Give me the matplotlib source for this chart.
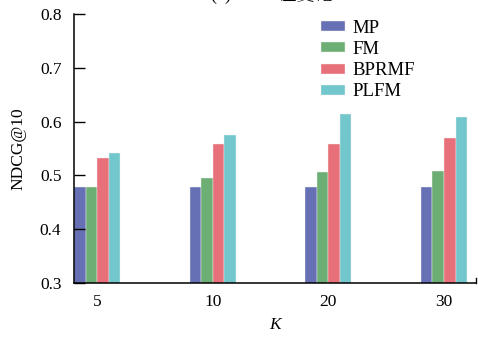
import matplotlib
matplotlib.use("Agg")
import matplotlib.pyplot as plt
import numpy as np

categories = ["5", "10", "20", "30"]
series_names = ["MP", "FM", "BPRMF", "PLFM"]
mp = [0.478, 0.478, 0.478, 0.478]
fm = [0.478, 0.496, 0.507, 0.509]
bprmf = [0.532, 0.559, 0.559, 0.570]
plfm = [0.542, 0.575, 0.614, 0.609]
yticks = [0.3, 0.4, 0.5, 0.6, 0.7, 0.8]
colors = ["#6670B4", "#6DAE74", "#E8707A", "#72C7CC"]

plt.rcParams['font.family'] = ['Liberation Serif', 'Noto Serif SC', 'Noto Sans CJK SC']

fig = plt.figure(figsize=(4.78, 3.37), dpi=100)
ax = fig.add_axes([74/478, 1-283/337, (476-74)/478, (283-14)/337])

x = np.arange(len(categories))
w = 0.1
for i, (vals, name) in enumerate(zip([mp, fm, bprmf, plfm], series_names)):
    ax.bar(x - 1.5*w + i*w, vals, width=w, color=colors[i], label=name,
           edgecolor='#f0f0f0', linewidth=0.3)

ax.set_ylim(0.3, 0.8)
ax.set_xlim(-0.2, 3.277)
ax.set_yticks(yticks)
ax.set_yticklabels([f"{t:.1f}" for t in yticks])
ax.set_xticks(x)
ax.set_xticklabels(categories)
ax.tick_params(axis='y', direction='in', length=8, width=1.0, labelsize=12.5, pad=9)
ax.tick_params(axis='x', length=0, labelsize=12.5, pad=8)
for s in ['top', 'right']:
    ax.spines[s].set_visible(False)
for s in ['left', 'bottom']:
    ax.spines[s].set_linewidth(1.1)
# small end tick at right end of bottom axis
ax.plot([1, 1], [0, 0.018], transform=ax.transAxes, color='black', lw=1.0, clip_on=False)

ax.set_ylabel("NDCG@10", fontsize=12.5, labelpad=10)
ax.set_xlabel("K", fontsize=12.5, style='italic', labelpad=5)

leg = ax.legend(loc='upper left', bbox_to_anchor=(320.5/478, 1-20/337),
                bbox_transform=fig.transFigure, frameon=False, fontsize=13.5,
                handlelength=1.3, handleheight=0.45, handletextpad=0.4,
                labelspacing=0.22, borderpad=0, borderaxespad=0)

fig.text(272/478, 1-4.5/337, "(a) MAP 值变化", ha='center', va='bottom', fontsize=13)

fig.savefig("out.png", dpi=100)
